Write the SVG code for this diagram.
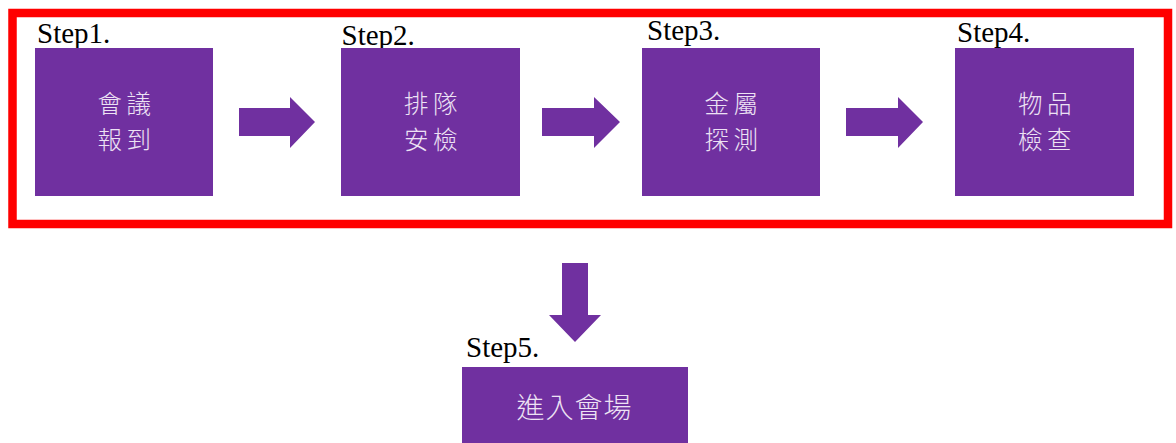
<svg xmlns="http://www.w3.org/2000/svg" width="1176" height="443" viewBox="0 0 1176 443">
<style>
.box{fill:#7030A0;}
.arr{fill:#7030A0;}
.lbl{font-family:"Noto Sans CJK TC","Noto Sans CJK SC",sans-serif;font-size:24.5px;font-weight:300;fill:#EDE2F4;text-anchor:middle;letter-spacing:4.5px;}
.lbl5{font-family:"Noto Sans CJK TC","Noto Sans CJK SC",sans-serif;font-size:28px;font-weight:300;fill:#EDE2F4;text-anchor:middle;letter-spacing:1px;}
.step{font-family:"Liberation Serif","Times New Roman",serif;font-size:29px;fill:#000;}
</style>
<rect width="1176" height="443" fill="#fff"/>
<rect x="12.5" y="13" width="1155.5" height="211" fill="none" stroke="#FF0000" stroke-width="8.5"/>
<g id="connectors">
<polygon class="arr" points="239,108 290,108 290,97 315,122 290,148 290,136 239,136"/>
<polygon class="arr" points="542,108 594,108 594,97 620,122 594,148 594,136 542,136"/>
<polygon class="arr" points="846,108 898,108 898,97 923,122 898,148 898,136 846,136"/>
<polygon class="arr" points="562,263 588,263 588,315 601,315 575,342 549,315 562,315"/>
</g>
<g id="step1">
<text class="step" x="37" y="43">Step1.</text>
<rect class="box" x="35" y="48" width="178" height="148"/>
<text class="lbl" x="126.5" y="113">會議</text>
<text class="lbl" x="126.5" y="148.5">報到</text>
</g>
<g id="step2">
<text class="step" x="341.5" y="44.5">Step2.</text>
<rect class="box" x="341" y="48" width="179" height="148"/>
<text class="lbl" x="433" y="113">排隊</text>
<text class="lbl" x="433" y="148.5">安檢</text>
</g>
<g id="step3">
<text class="step" x="647" y="40">Step3.</text>
<rect class="box" x="642" y="48" width="178" height="148"/>
<text class="lbl" x="733.5" y="113">金屬</text>
<text class="lbl" x="733.5" y="148.5">探測</text>
</g>
<g id="step4">
<text class="step" x="957" y="42">Step4.</text>
<rect class="box" x="955" y="48" width="179" height="148"/>
<text class="lbl" x="1047" y="113">物品</text>
<text class="lbl" x="1047" y="148.5">檢查</text>
</g>
<g id="step5">
<text class="step" x="466" y="356.5">Step5.</text>
<rect class="box" x="462" y="367" width="226" height="80"/>
<text class="lbl5" x="574.5" y="418">進入會場</text>
</g>
</svg>
